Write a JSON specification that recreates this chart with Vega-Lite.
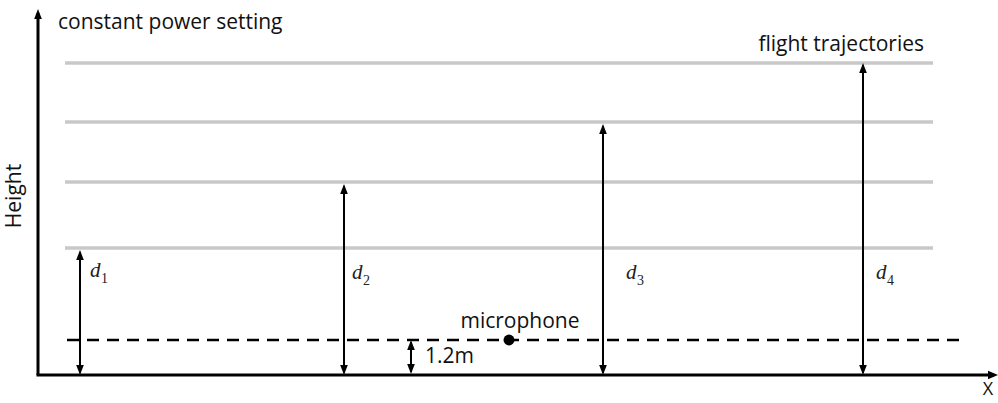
{
  "$schema": "https://vega.github.io/schema/vega-lite/v6.json",
  "width": 998,
  "height": 403,
  "autosize": {"type": "fit", "contains": "padding"},
  "padding": 0,
  "background": "white",
  "config": {"view": {"stroke": null}},
  "datasets": {
    "trajectories": [
      {"x0": 65, "x1": 933, "h": 312},
      {"x0": 65, "x1": 933, "h": 253},
      {"x0": 65, "x1": 933, "h": 193},
      {"x0": 65, "x1": 933, "h": 127}
    ],
    "micline": [{"x0": 67, "x1": 966, "h": 35}],
    "axes": [
      {"x0": 38, "x1": 38, "h0": 0, "h1": 362},
      {"x0": 36.5, "x1": 994, "h0": 0, "h1": 0}
    ],
    "distances": [
      {"x0": 80, "x1": 80, "h0": 2, "h1": 123},
      {"x0": 344, "x1": 344, "h0": 2, "h1": 189},
      {"x0": 603, "x1": 603, "h0": 2, "h1": 249},
      {"x0": 863, "x1": 863, "h0": 2, "h1": 310},
      {"x0": 411, "x1": 411, "h0": 3, "h1": 33}
    ],
    "heads": [
      {"x": 80, "h": 125, "dir": "up"}, {"x": 80, "h": 0, "dir": "down"},
      {"x": 344, "h": 191, "dir": "up"}, {"x": 344, "h": 0, "dir": "down"},
      {"x": 603, "h": 251, "dir": "up"}, {"x": 603, "h": 0, "dir": "down"},
      {"x": 863, "h": 312, "dir": "up"}, {"x": 863, "h": 0, "dir": "down"},
      {"x": 411, "h": 35, "dir": "up"}, {"x": 411, "h": 1, "dir": "down"},
      {"x": 38, "h": 366, "dir": "up"},
      {"x": 998, "h": 0, "dir": "right"}
    ],
    "mic": [{"x": 509, "h": 35}],
    "labels": [
      {"x": 58, "h": 352, "text": "constant power setting", "align": "left"},
      {"x": 924, "h": 330, "text": "flight trajectories", "align": "right"},
      {"x": 520, "h": 53, "text": "microphone", "align": "center"},
      {"x": 425, "h": 18, "text": "1.2m", "align": "left"}
    ],
    "xlabel": [{"x": 988, "h": -20, "text": "X"}],
    "ylabel": [{"x": 15, "h": 179, "text": "Height"}],
    "dsym": [
      {"x": 90, "h": 98, "text": "d"},
      {"x": 352, "h": 96, "text": "d"},
      {"x": 626, "h": 96, "text": "d"},
      {"x": 876, "h": 96, "text": "d"}
    ],
    "dsub": [
      {"x": 101, "h": 92, "text": "1"},
      {"x": 363, "h": 90, "text": "2"},
      {"x": 637, "h": 90, "text": "3"},
      {"x": 887, "h": 90, "text": "4"}
    ]
  },
  "layer": [
    {
      "data": {"name": "trajectories"},
      "mark": {"type": "rule", "color": "#c8c8c8", "strokeWidth": 3.5},
      "encoding": {
        "x": {"field": "x0", "type": "quantitative", "scale": {"domain": [0, 998], "nice": false, "zero": false}, "axis": null},
        "x2": {"field": "x1"},
        "y": {"field": "h", "type": "quantitative", "scale": {"domain": [-28, 375], "nice": false, "zero": false}, "axis": null}
      }
    },
    {
      "data": {"name": "micline"},
      "mark": {"type": "rule", "color": "black", "strokeWidth": 2.5, "strokeDash": [12, 8]},
      "encoding": {
        "x": {"field": "x0", "type": "quantitative"},
        "x2": {"field": "x1"},
        "y": {"field": "h", "type": "quantitative"}
      }
    },
    {
      "data": {"name": "axes"},
      "mark": {"type": "rule", "color": "black", "strokeWidth": 3},
      "encoding": {
        "x": {"field": "x0", "type": "quantitative"},
        "x2": {"field": "x1"},
        "y": {"field": "h0", "type": "quantitative"},
        "y2": {"field": "h1"}
      }
    },
    {
      "data": {"name": "distances"},
      "mark": {"type": "rule", "color": "black", "strokeWidth": 2},
      "encoding": {
        "x": {"field": "x0", "type": "quantitative"},
        "x2": {"field": "x1"},
        "y": {"field": "h0", "type": "quantitative"},
        "y2": {"field": "h1"}
      }
    },
    {
      "data": {"name": "heads"},
      "mark": {"type": "point", "filled": true, "color": "black", "opacity": 1, "size": 400},
      "encoding": {
        "x": {"field": "x", "type": "quantitative"},
        "y": {"field": "h", "type": "quantitative"},
        "shape": {
          "field": "dir", "type": "nominal", "legend": null,
          "scale": {"domain": ["up", "down", "right"], "range": ["M0,0L-0.38,1L0.38,1Z", "M0,0L-0.38,-1L0.38,-1Z", "M0,0L-1,-0.42L-1,0.42Z"]}
        }
      }
    },
    {
      "data": {"name": "mic"},
      "mark": {"type": "point", "filled": true, "shape": "circle", "color": "black", "opacity": 1, "size": 120},
      "encoding": {
        "x": {"field": "x", "type": "quantitative"},
        "y": {"field": "h", "type": "quantitative"}
      }
    },
    {
      "data": {"name": "labels"},
      "transform": [{"filter": "datum.align == 'left'"}],
      "mark": {"type": "text", "align": "left", "baseline": "middle", "font": "Open Sans", "fontSize": 21, "color": "#111"},
      "encoding": {
        "x": {"field": "x", "type": "quantitative"},
        "y": {"field": "h", "type": "quantitative"},
        "text": {"field": "text"}
      }
    },
    {
      "data": {"name": "labels"},
      "transform": [{"filter": "datum.align == 'right'"}],
      "mark": {"type": "text", "align": "right", "baseline": "middle", "font": "Open Sans", "fontSize": 21, "color": "#111"},
      "encoding": {
        "x": {"field": "x", "type": "quantitative"},
        "y": {"field": "h", "type": "quantitative"},
        "text": {"field": "text"}
      }
    },
    {
      "data": {"name": "labels"},
      "transform": [{"filter": "datum.align == 'center'"}],
      "mark": {"type": "text", "align": "center", "baseline": "middle", "font": "Open Sans", "fontSize": 21, "color": "#111"},
      "encoding": {
        "x": {"field": "x", "type": "quantitative"},
        "y": {"field": "h", "type": "quantitative"},
        "text": {"field": "text"}
      }
    },
    {
      "data": {"name": "xlabel"},
      "mark": {"type": "text", "align": "center", "baseline": "alphabetic", "font": "Open Sans", "fontSize": 18, "color": "#111"},
      "encoding": {
        "x": {"field": "x", "type": "quantitative"},
        "y": {"field": "h", "type": "quantitative"},
        "text": {"field": "text"}
      }
    },
    {
      "data": {"name": "ylabel"},
      "mark": {"type": "text", "align": "center", "baseline": "middle", "angle": 270, "font": "Open Sans", "fontSize": 21, "color": "#111"},
      "encoding": {
        "x": {"field": "x", "type": "quantitative"},
        "y": {"field": "h", "type": "quantitative"},
        "text": {"field": "text"}
      }
    },
    {
      "data": {"name": "dsym"},
      "mark": {"type": "text", "align": "left", "baseline": "alphabetic", "font": "Liberation Serif", "fontStyle": "italic", "fontSize": 21, "color": "#222"},
      "encoding": {
        "x": {"field": "x", "type": "quantitative"},
        "y": {"field": "h", "type": "quantitative"},
        "text": {"field": "text"}
      }
    },
    {
      "data": {"name": "dsub"},
      "mark": {"type": "text", "align": "left", "baseline": "alphabetic", "font": "Liberation Serif", "fontSize": 14, "color": "#222"},
      "encoding": {
        "x": {"field": "x", "type": "quantitative"},
        "y": {"field": "h", "type": "quantitative"},
        "text": {"field": "text"}
      }
    }
  ]
}
